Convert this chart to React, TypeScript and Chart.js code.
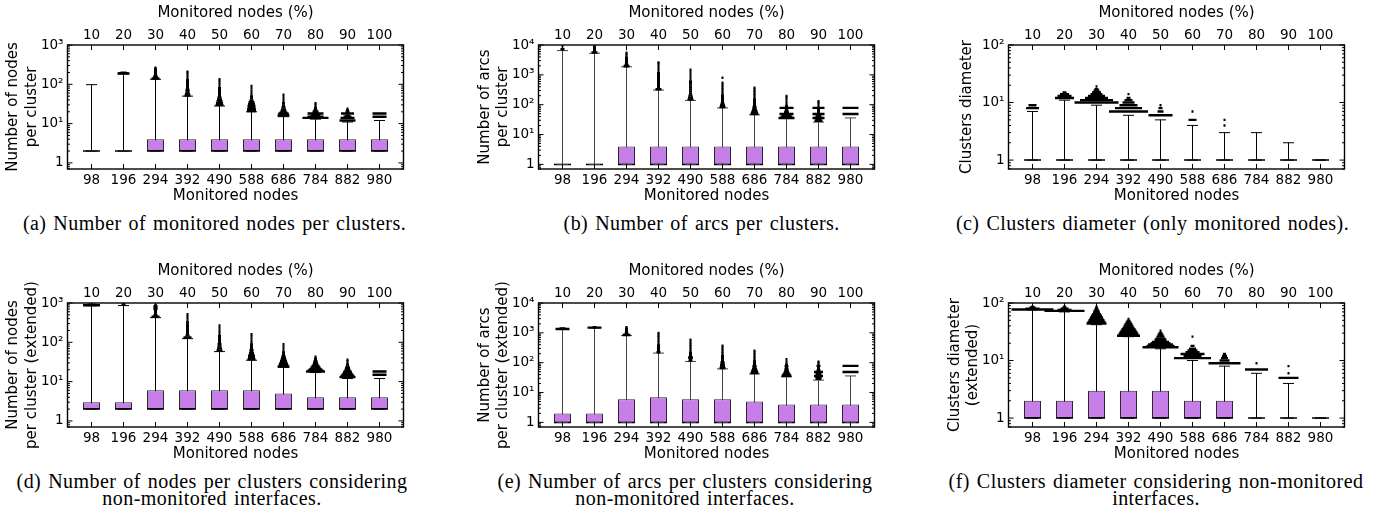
import React, { useEffect, useRef } from 'react';
import { Chart, registerables } from 'chart.js';

Chart.register(...registerables);

// ---- axis labels ----
const NODE_LABELS = ['98', '196', '294', '392', '490', '588', '686', '784', '882', '980'];
const PERCENT_LABELS = ['10', '20', '30', '40', '50', '60', '70', '80', '90', '100'];
const Y_TICKS_2 = [1, 10, 100];
const Y_TICKS_3 = [1, 10, 100, 1000];
const Y_TICKS_4 = [1, 10, 100, 1000, 10000];

// Outliers are [value, number of clusters sharing that value]
type Outlier = [number, number];

// ---- (a) monitored nodes per cluster ----
const A_Q1 = [2, 2, 2, 2, 2, 2, 2, 2, 2, 2];
const A_Q3 = [2, 2, 4, 4, 4, 4, 4, 4, 4, 4];
const A_MED = [2, 2, 2, 2, 2, 2, 2, 2, 2, 2];
const A_WHI = [98, 186, 134, 50, 28, 20, 15, 13, 11, 12];
const A_OUT: Outlier[][] = [
  [],
  [[189, 12], [193, 10], [196, 6]],
  [[140, 8], [150, 5], [162, 4], [175, 3], [190, 3], [205, 3], [220, 3], [238, 3], [255, 2], [265, 2]],
  [[52, 6], [58, 5], [65, 4], [73, 4], [82, 3], [92, 3], [103, 3], [115, 3], [129, 3], [145, 2], [162, 2], [182, 2], [200, 2], [210, 2]],
  [[30, 8], [33, 7], [37, 6], [41, 5], [46, 4], [51, 3], [57, 3], [64, 3], [72, 3], [80, 3], [90, 2], [101, 2], [113, 2], [125, 2], [134, 2]],
  [[21, 9], [23, 9], [25, 8], [28, 8], [31, 7], [35, 6], [39, 4], [44, 3], [49, 3], [55, 2], [62, 2], [70, 2], [80, 1], [91, 1]],
  [[16, 12], [17, 11], [18, 10], [19, 8], [21, 6], [23, 5], [26, 4], [29, 3], [33, 3], [37, 2], [42, 2], [48, 2], [54, 2]],
  [[14, 26], [15, 16], [16, 10], [17, 8], [18, 16], [20, 6], [22, 4], [25, 3], [28, 2], [31, 2], [33, 1]],
  [[12, 16], [14, 14], [15, 8], [16, 5], [18, 13], [20, 4], [22, 3], [24, 2]],
  [[15, 14], [18, 14]],
];

// ---- (b) arcs per cluster ----
const B_Q1 = [1, 1, 1, 1, 1, 1, 1, 1, 1, 1];
const B_Q3 = [1, 1, 4, 4, 4, 4, 4, 4, 4, 4];
const B_MED = [1, 1, 1, 1, 1, 1, 1, 1, 1, 1];
const B_WHI = [6500, 5300, 1860, 310, 139, 78, 46, 35, 26, 36];
const B_OUT: Outlier[][] = [
  [[7200, 4], [9000, 2]],
  [[5600, 6], [6200, 3], [6900, 3], [7600, 3], [8400, 3], [9300, 2]],
  [[1950, 6], [2150, 4], [2400, 3], [2650, 3], [2950, 3], [3250, 3], [3600, 3], [4000, 2], [4450, 2], [4950, 2], [5500, 2]],
  [[330, 6], [385, 3], [450, 3], [525, 3], [610, 3], [710, 3], [830, 3], [970, 3], [1130, 3], [1320, 2], [1540, 2], [1800, 2], [2100, 2], [2450, 2], [2600, 1]],
  [[150, 6], [175, 5], [205, 4], [240, 3], [280, 3], [325, 3], [380, 3], [445, 3], [520, 3], [605, 3], [705, 2], [825, 2], [960, 2], [1120, 2], [1310, 2], [1500, 1]],
  [[84, 6], [95, 5], [108, 4], [122, 3], [138, 3], [156, 3], [177, 3], [200, 3], [227, 2], [257, 2], [290, 2], [330, 2], [375, 2], [425, 2], [480, 2], [545, 2], [800, 2]],
  [[49, 8], [54, 7], [60, 6], [67, 5], [75, 4], [84, 4], [94, 3], [105, 3], [118, 3], [132, 3], [148, 3], [166, 2], [186, 2], [208, 2], [233, 2], [261, 2], [292, 2], [330, 1], [372, 1]],
  [[36, 16], [38, 12], [41, 10], [44, 8], [49, 14], [55, 5], [62, 4], [70, 3], [78, 14], [90, 3], [105, 2], [125, 2], [150, 2], [175, 1], [195, 1]],
  [[29, 8], [33, 6], [36, 12], [40, 6], [44, 4], [49, 12], [55, 3], [62, 3], [70, 3], [78, 12], [90, 2], [105, 2], [120, 2], [131, 1]],
  [[49, 16], [78, 16]],
];

// ---- (c) cluster diameter, monitored nodes only ----
const C_Q1 = [1, 1, 1, 1, 1, 1, 1, 1, 1, 1];
const C_Q3 = [1, 1, 1, 1, 1, 1, 1, 1, 1, 1];
const C_MED = [1, 1, 1, 1, 1, 1, 1, 1, 1, 1];
const C_WHI = [7, 11, 9, 6, 5, 4, 3, 3, 2, 1];
const C_OUT: Outlier[][] = [
  [[8, 13], [9, 8]],
  [[12, 19], [13, 14], [14, 9], [15, 4]],
  [[10, 44], [11, 33], [12, 23], [13, 17], [14, 12], [15, 9], [16, 6], [17, 4], [19, 2]],
  [[7, 39], [8, 27], [9, 18], [10, 12], [11, 8], [12, 4], [14, 2]],
  [[6, 24], [7, 6], [8, 4], [9, 2]],
  [[5, 8], [7, 2]],
  [[4, 2], [5, 2]],
  [],
  [],
  [],
];

// ---- (d) nodes per cluster, extended ----
const D_Q1 = [2, 2, 2, 2, 2, 2, 2, 2, 2, 2];
const D_Q3 = [3, 3, 6, 6, 6, 6, 5, 4, 4, 4];
const D_MED = [2, 2, 2, 2, 2, 2, 2, 2, 2, 2];
const D_WHI = [850, 860, 424, 124, 58, 35, 23, 17, 12, 12];
const D_OUT: Outlier[][] = [
  [[875, 17], [900, 8]],
  [[900, 4], [960, 2]],
  [[450, 8], [490, 4], [535, 3], [585, 3], [640, 3], [700, 4], [765, 4], [835, 4], [870, 3]],
  [[132, 8], [150, 4], [170, 3], [193, 3], [218, 3], [247, 3], [280, 3], [318, 3], [360, 2], [408, 2], [460, 2], [517, 1]],
  [[62, 6], [70, 5], [79, 4], [89, 4], [100, 3], [113, 3], [128, 3], [145, 3], [164, 2], [186, 2], [210, 2], [238, 2], [270, 1]],
  [[37, 8], [40, 7], [44, 7], [48, 6], [53, 5], [58, 4], [64, 4], [71, 3], [79, 3], [88, 3], [98, 2], [110, 2], [125, 2], [142, 2], [160, 1]],
  [[24, 12], [26, 10], [28, 9], [30, 8], [33, 7], [36, 6], [40, 5], [44, 4], [49, 3], [55, 3], [62, 2], [70, 2], [79, 2], [89, 1]],
  [[18, 19], [19, 16], [20, 14], [21, 12], [23, 10], [25, 8], [27, 6], [30, 5], [33, 4], [37, 3], [40, 2], [43, 1]],
  [[13, 16], [14, 14], [15, 12], [16, 10], [17, 9], [18, 8], [20, 6], [22, 5], [24, 4], [27, 3], [30, 2], [33, 2], [36, 1]],
  [[15, 14], [18, 14]],
];

// ---- (e) arcs per cluster, extended ----
const E_Q1 = [1, 1, 1, 1, 1, 1, 1, 1, 1, 1];
const E_Q3 = [2, 2, 6, 7, 6, 6, 5, 4, 4, 4];
const E_MED = [1, 1, 1, 1, 1, 1, 1, 1, 1, 1];
const E_WHI = [1300, 1450, 811, 210, 110, 62, 42, 34, 26, 36];
const E_OUT: Outlier[][] = [
  [[1350, 14], [1400, 6]],
  [[1500, 14], [1540, 4]],
  [[850, 8], [930, 4], [1020, 3], [1120, 3], [1230, 3], [1350, 3], [1480, 2], [1550, 2]],
  [[225, 4], [255, 3], [290, 3], [330, 3], [375, 3], [425, 2], [485, 2], [550, 2], [625, 2], [710, 2], [800, 2], [900, 2], [1000, 1]],
  [[118, 4], [133, 3], [150, 5], [170, 3], [192, 3], [217, 3], [245, 2], [277, 2], [313, 2], [354, 2], [400, 2], [452, 2], [510, 2], [590, 1]],
  [[66, 6], [74, 5], [83, 5], [93, 4], [104, 4], [117, 3], [131, 3], [147, 3], [165, 3], [185, 2], [208, 2], [233, 2], [262, 2], [295, 2], [330, 1], [372, 1]],
  [[45, 8], [50, 7], [56, 6], [62, 5], [70, 4], [78, 4], [87, 3], [98, 3], [110, 3], [123, 2], [138, 2], [155, 2], [175, 2], [198, 2], [222, 1], [250, 1]],
  [[36, 10], [38, 9], [40, 8], [43, 6], [46, 6], [50, 5], [55, 4], [60, 4], [67, 3], [75, 4], [84, 3], [95, 2], [110, 2], [131, 1]],
  [[29, 6], [33, 6], [36, 9], [40, 6], [44, 5], [49, 9], [55, 4], [62, 3], [70, 3], [78, 4], [88, 2], [100, 2], [107, 1]],
  [[49, 16], [78, 16]],
];

// ---- (f) cluster diameter, extended ----
const F_Q1 = [1, 1, 1, 1, 1, 1, 1, 1, 1, 1];
const F_Q3 = [2, 2, 3, 3, 3, 2, 2, 1, 1, 1];
const F_MED = [1, 1, 1, 1, 1, 1, 1, 1, 1, 1];
const F_WHI = [76, 70, 42, 26, 16, 10, 8, 6, 4, 1];
const F_OUT: Outlier[][] = [
  [[77, 42], [80, 14], [84, 6], [88, 2]],
  [[73, 40], [76, 14], [80, 8], [84, 4], [88, 2]],
  [[44, 20], [47, 18], [50, 16], [53, 14], [56, 13], [60, 11], [64, 9], [68, 7], [73, 6], [78, 4], [82, 3], [86, 2]],
  [[27, 23], [29, 20], [31, 18], [33, 16], [35, 14], [37, 12], [40, 10], [43, 8], [46, 6], [49, 4], [53, 2]],
  [[17, 36], [18, 28], [19, 25], [20, 20], [21, 17], [23, 12], [24, 10], [26, 8], [28, 6], [30, 4], [33, 2]],
  [[11, 37], [12, 18], [13, 24], [14, 14], [15, 10], [16, 7], [18, 4], [26, 2]],
  [[9, 32], [10, 10], [11, 7], [12, 5], [13, 3]],
  [[7, 23], [9, 2]],
  [[5, 20], [6, 2], [8, 2]],
  [],
];

// ---- styling / geometry ----
const FONT = '"DejaVu Sans", Verdana, sans-serif';
const CAPTION_FONT = '"Liberation Serif", "Times New Roman", Times, serif';
const BOX_FILL = '#c77ee8';
const BOX_EDGE = '#2a2a2a';
const CANVAS_H = 206;
const PLOT_TOP = 45;
const PLOT_BOTTOM = 169;
const X_MIN = -0.75;
const X_MAX = 9.75;
const Y_MIN = 0.7;
const SUPERSCRIPT = ['\u2070', '\u00b9', '\u00b2', '\u00b3', '\u2074'];

const logLabel = (v: number) => {
  const e = Math.round(Math.log10(v));
  return e === 0 ? '1' : '10' + SUPERSCRIPT[e];
};

interface PanelSpec {
  left: number;
  top: number;
  width: number;
  plotLeft: number;
  plotRight: number;
  yTitle: string | string[];
  yTitlePad: number;
  yMax: number;
  yTicks: number[];
  q1: number[];
  q3: number[];
  med: number[];
  whi: number[];
  out: Outlier[][];
  ink: string;
}

// border with inward ticks on all four sides, log minor ticks on y
const framePlugin = {
  id: 'gnuFrame',
  afterDatasetsDraw(chart: any) {
    const { ctx, chartArea: a, scales } = chart;
    const x = scales.x;
    const y = scales.y;
    ctx.save();
    ctx.strokeStyle = '#000';
    ctx.lineWidth = 1;
    ctx.beginPath();
    NODE_LABELS.forEach((_, i) => {
      const px = x.getPixelForValue(i);
      ctx.moveTo(px, a.bottom);
      ctx.lineTo(px, a.bottom - 5);
      ctx.moveTo(px, a.top);
      ctx.lineTo(px, a.top + 5);
    });
    const maxExp = Math.round(Math.log10(y.max));
    for (let e = -1; e <= maxExp; e++) {
      for (let m = 1; m < 10; m++) {
        const v = m * Math.pow(10, e);
        if (v < y.min || v > y.max * 1.0001) continue;
        const py = y.getPixelForValue(v);
        const len = m === 1 ? 5 : 2.5;
        ctx.moveTo(a.left, py);
        ctx.lineTo(a.left + len, py);
        ctx.moveTo(a.right, py);
        ctx.lineTo(a.right - len, py);
      }
    }
    ctx.stroke();
    ctx.lineWidth = 1.4;
    ctx.strokeRect(a.left, a.top, a.right - a.left, a.bottom - a.top);
    ctx.restore();
  },
};

function makeConfig(p: PanelSpec): any {
  const idx = NODE_LABELS.map((_, i) => i);
  const outlierPoints = p.out.flatMap((list, i) => list.map(([v, n]) => ({ x: i, y: v, n })));
  const capPoints = idx.flatMap((i) => [{ x: i, y: p.q1[i] }, { x: i, y: p.whi[i] }]);
  const medianPoints = idx.map((i) => ({ x: i, y: p.med[i] }));
  const boxData = idx.map((i) => ({ x: i, y: [p.q1[i], p.q3[i]] }));
  const whiskerData = idx.map((i) => ({ x: i, y: [p.q1[i], p.whi[i]] }));

  const tickFont = { family: FONT, size: 13.5 };
  const titleFont = { family: FONT, size: 15, lineHeight: 1.227 };
  const hidden = { display: false, drawTicks: false };

  return {
    type: 'bar',
    data: {
      datasets: [
        {
          type: 'scatter',
          data: outlierPoints,
          pointStyle: 'line',
          pointRadius: (c: any) => Math.max(1, (c.raw && c.raw.n ? c.raw.n : 2) / 2),
          pointBorderWidth: 2.4,
          pointBorderColor: '#000',
          pointBackgroundColor: '#000',
        },
        {
          type: 'scatter',
          data: capPoints,
          pointStyle: 'line',
          pointRadius: 5.5,
          pointBorderWidth: 1,
          pointBorderColor: p.ink,
        },
        {
          type: 'scatter',
          data: medianPoints,
          pointStyle: 'line',
          pointRadius: 8.5,
          pointBorderWidth: 1.5,
          pointBorderColor: '#000',
        },
        {
          type: 'bar',
          data: boxData,
          backgroundColor: BOX_FILL,
          borderColor: BOX_EDGE,
          borderWidth: 1,
          borderSkipped: false,
          barThickness: 17,
          grouped: false,
          inflateAmount: 0,
        },
        {
          type: 'bar',
          data: whiskerData,
          backgroundColor: p.ink,
          borderWidth: 0,
          barThickness: 1,
          grouped: false,
          inflateAmount: 0,
        },
      ],
    },
    options: {
      animation: false,
      responsive: false,
      events: [],
      layout: { autoPadding: false, padding: { left: 0, top: 0, bottom: 0, right: p.width - p.plotRight } },
      plugins: { legend: { display: false }, tooltip: { enabled: false } },
      scales: {
        x: {
          type: 'linear',
          position: 'bottom',
          min: X_MIN,
          max: X_MAX,
          offset: false,
          grid: hidden,
          border: { display: false },
          afterBuildTicks: (s: any) => {
            s.ticks = idx.map((v) => ({ value: v }));
          },
          afterFit: (s: any) => {
            s.height = CANVAS_H - PLOT_BOTTOM;
          },
          ticks: {
            autoSkip: false,
            maxRotation: 0,
            padding: 2.9,
            font: tickFont,
            color: '#000',
            callback: (v: number) => NODE_LABELS[v],
          },
          title: {
            display: true,
            text: 'Monitored nodes',
            font: titleFont,
            color: '#000',
            padding: { top: 0, bottom: 1.1 },
          },
        },
        x2: {
          type: 'linear',
          position: 'top',
          min: X_MIN,
          max: X_MAX,
          offset: false,
          grid: hidden,
          border: { display: false },
          afterBuildTicks: (s: any) => {
            s.ticks = idx.map((v) => ({ value: v }));
          },
          afterFit: (s: any) => {
            s.height = PLOT_TOP;
          },
          ticks: {
            autoSkip: false,
            maxRotation: 0,
            padding: 1.9,
            font: tickFont,
            color: '#000',
            callback: (v: number) => PERCENT_LABELS[v],
          },
          title: {
            display: true,
            text: 'Monitored nodes (%)',
            font: titleFont,
            color: '#000',
            padding: { top: 4.1, bottom: 0 },
          },
        },
        y: {
          type: 'logarithmic',
          position: 'left',
          min: Y_MIN,
          max: p.yMax,
          grid: hidden,
          border: { display: false },
          afterBuildTicks: (s: any) => {
            s.ticks = p.yTicks.map((v) => ({ value: v }));
          },
          afterFit: (s: any) => {
            s.width = p.plotLeft;
          },
          ticks: {
            autoSkip: false,
            padding: 4,
            font: tickFont,
            color: '#000',
            callback: (v: number) => logLabel(v),
          },
          title: {
            display: true,
            text: p.yTitle,
            font: titleFont,
            color: '#000',
            padding: { top: p.yTitlePad, bottom: 0 },
          },
        },
      },
    },
    plugins: [framePlugin],
  };
}

const PANELS: PanelSpec[] = [
  { left: 0, top: 0, width: 420, plotLeft: 67.5, plotRight: 403.5, yTitle: ['Number of nodes', 'per cluster'], yTitlePad: 4.1, yMax: 1000, yTicks: Y_TICKS_3, q1: A_Q1, q3: A_Q3, med: A_MED, whi: A_WHI, out: A_OUT, ink: '#000' },
  { left: 460, top: 0, width: 420, plotLeft: 78.5, plotRight: 414.5, yTitle: ['Number of arcs', 'per cluster'], yTitlePad: 15.8, yMax: 10000, yTicks: Y_TICKS_4, q1: B_Q1, q3: B_Q3, med: B_MED, whi: B_WHI, out: B_OUT, ink: '#444' },
  { left: 920, top: 0, width: 462, plotLeft: 88.5, plotRight: 424.5, yTitle: 'Clusters diameter', yTitlePad: 37.5, yMax: 100, yTicks: Y_TICKS_2, q1: C_Q1, q3: C_Q3, med: C_MED, whi: C_WHI, out: C_OUT, ink: '#000' },
  { left: 0, top: 258, width: 420, plotLeft: 67.5, plotRight: 403.5, yTitle: ['Number of nodes', 'per cluster (extended)'], yTitlePad: 4.1, yMax: 1000, yTicks: Y_TICKS_3, q1: D_Q1, q3: D_Q3, med: D_MED, whi: D_WHI, out: D_OUT, ink: '#000' },
  { left: 460, top: 258, width: 420, plotLeft: 78.5, plotRight: 414.5, yTitle: ['Number of arcs', 'per cluster (extended)'], yTitlePad: 15.8, yMax: 10000, yTicks: Y_TICKS_4, q1: E_Q1, q3: E_Q3, med: E_MED, whi: E_WHI, out: E_OUT, ink: '#444' },
  { left: 920, top: 258, width: 462, plotLeft: 88.5, plotRight: 424.5, yTitle: ['Clusters diameter', '(extended)'], yTitlePad: 25.8, yMax: 100, yTicks: Y_TICKS_2, q1: F_Q1, q3: F_Q3, med: F_MED, whi: F_WHI, out: F_OUT, ink: '#000' },
];

const CAPTIONS = [
  { cx: 214.5, top: 214.5, lines: ['(a) Number of monitored nodes per clusters.'] },
  { cx: 701.7, top: 214.5, lines: ['(b) Number of arcs per clusters.'] },
  { cx: 1152.5, top: 214.5, lines: ['(c) Clusters diameter (only monitored nodes).'] },
  { cx: 212, top: 473, lines: ['(d) Number of nodes per clusters considering', 'non-monitored interfaces.'] },
  { cx: 685, top: 473, lines: ['(e) Number of arcs per clusters considering', 'non-monitored interfaces.'] },
  { cx: 1156, top: 473, lines: ['(f) Clusters diameter considering non-monitored', 'interfaces.'] },
];

function BoxPanel({ spec }: { spec: PanelSpec }) {
  const ref = useRef<HTMLCanvasElement>(null);
  useEffect(() => {
    if (!ref.current) return;
    const chart = new Chart(ref.current, makeConfig(spec));
    return () => chart.destroy();
  }, [spec]);
  return (
    <canvas
      ref={ref}
      width={spec.width}
      height={CANVAS_H}
      style={{ position: 'absolute', left: spec.left, top: spec.top, width: spec.width, height: CANVAS_H }}
    />
  );
}

export default function App() {
  return (
    <div style={{ position: 'absolute', left: 0, top: 0, width: 1382, height: 518, background: '#fff', overflow: 'hidden' }}>
      {PANELS.map((p, i) => (
        <BoxPanel key={i} spec={p} />
      ))}
      {CAPTIONS.map((c, i) => (
        <div
          key={'cap' + i}
          style={{
            position: 'absolute',
            left: c.cx - 260,
            top: c.top,
            width: 520,
            textAlign: 'center',
            fontFamily: CAPTION_FONT,
            fontSize: 20,
            letterSpacing: '0.45px',
            wordSpacing: '1.5px',
            lineHeight: '16.5px',
            color: '#000',
            whiteSpace: 'nowrap',
          }}
        >
          {c.lines.map((l, j) => (
            <div key={j}>{l}</div>
          ))}
        </div>
      ))}
    </div>
  );
}
